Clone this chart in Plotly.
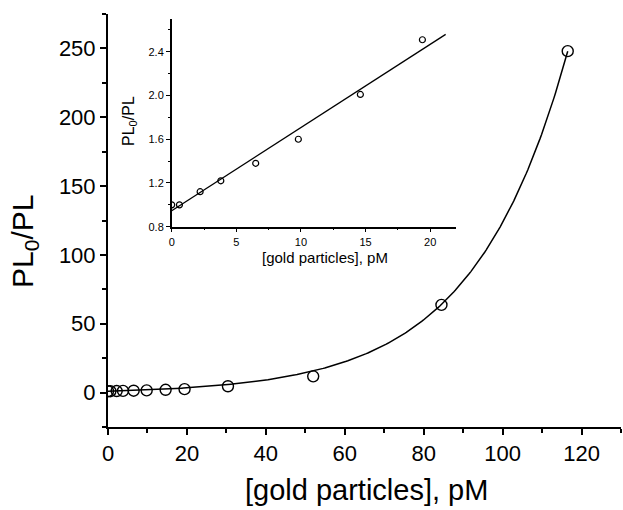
import numpy as np
import plotly.graph_objects as go

# data
conc_pM = [0, 0.6, 2.2, 3.8, 6.5, 9.8, 14.6, 19.4, 30.4, 52.0, 84.5, 116.5]
pl_ratio = [1.0, 1.0, 1.12, 1.22, 1.38, 1.60, 2.01, 2.51, 4.6, 11.8, 63.7, 248.0]
inset_conc = conc_pM[:8]
inset_ratio = pl_ratio[:8]

# fitted curves (parameters)
exp_y0, exp_A, exp_k = -0.866, 1.866, 0.042
lin_b, lin_m, lin_xmax = 0.946, 0.0761, 21.2

main_xticks = [0, 20, 40, 60, 80, 100, 120]
main_yticks = [0, 50, 100, 150, 200, 250]
inset_xticks = [0, 5, 10, 15, 20]
inset_yticks = [0.8, 1.2, 1.6, 2.0, 2.4]

FONT = "Liberation Sans, Arial, sans-serif"

xf = np.linspace(0, conc_pM[-1], 300)
yf = exp_y0 + exp_A * np.exp(exp_k * xf)
xl = np.array([0, lin_xmax])
yl = lin_b + lin_m * xl

fig = go.Figure()
fig.add_trace(go.Scatter(x=xf, y=yf, mode="lines", line=dict(color="black", width=1.5),
                         xaxis="x", yaxis="y", hoverinfo="skip"))
fig.add_trace(go.Scatter(x=conc_pM, y=pl_ratio, mode="markers",
                         marker=dict(symbol="circle-open", size=11, color="black", line=dict(width=1.4)),
                         xaxis="x", yaxis="y"))
fig.add_trace(go.Scatter(x=xl, y=yl, mode="lines", line=dict(color="black", width=1.3),
                         xaxis="x2", yaxis="y2", hoverinfo="skip"))
fig.add_trace(go.Scatter(x=inset_conc, y=inset_ratio, mode="markers",
                         marker=dict(symbol="circle-open", size=6, color="black", line=dict(width=1.2)),
                         xaxis="x2", yaxis="y2"))

L, R, T, B = 108, 2, 14, 83
W, H = 623, 510
PW, PH = W - L - R, H - T - B

def px(x):
    return (x - L) / PW

def py(y):
    return (H - B - y) / PH

axis_common = dict(showgrid=False, zeroline=False, showline=True, linecolor="black",
                   ticks="outside", tickcolor="black", mirror=False, automargin=False)

fig.update_layout(
    width=W, height=H,
    margin=dict(l=L, r=R, t=T, b=B),
    paper_bgcolor="white", plot_bgcolor="white",
    showlegend=False,
    font=dict(family=FONT, color="black"),
    xaxis=dict(range=[0, 130], tickvals=main_xticks, linewidth=2, tickwidth=2, ticklen=6,
               tickfont=dict(size=22, family=FONT),
               minor=dict(dtick=10, ticklen=4, tickwidth=1.5, ticks="outside", tickcolor="black"),
               domain=[0, 1], anchor="y", **axis_common),
    yaxis=dict(range=[-25, 275], tickvals=main_yticks, linewidth=2, tickwidth=2, ticklen=6,
               tickfont=dict(size=22, family=FONT),
               minor=dict(dtick=25, tick0=0, ticklen=4, tickwidth=1.5, ticks="outside", tickcolor="black"),
               domain=[0, 1], anchor="x", **axis_common),
    xaxis2=dict(range=[0, 22], tickvals=inset_xticks, linewidth=1.5, tickwidth=1.3, ticklen=4,
                tickfont=dict(size=11, family=FONT),
                minor=dict(dtick=2.5, ticklen=2, tickwidth=1, ticks="outside", tickcolor="black"),
                domain=[px(171.7), px(456)], anchor="y2", **axis_common),
    yaxis2=dict(range=[0.8, 2.7], tickvals=inset_yticks, ticktext=["0.8", "1.2", "1.6", "2.0", "2.4"],
                linewidth=1.5, tickwidth=1.3, ticklen=4,
                tickfont=dict(size=11, family=FONT),
                minor=dict(dtick=0.2, tick0=0.8, ticklen=2, tickwidth=1, ticks="outside", tickcolor="black"),
                domain=[py(226.7), py(19)], anchor="x2", **axis_common),
    annotations=[
        dict(text="[gold particles], pM", x=px(366), y=py(490), xref="paper", yref="paper",
             showarrow=False, font=dict(size=29, family=FONT), xanchor="center", yanchor="middle"),
        dict(text="PL<sub>0</sub>/PL", x=px(24), y=py(242), xref="paper", yref="paper",
             showarrow=False, textangle=-90, font=dict(size=30, family=FONT),
             xanchor="center", yanchor="middle"),
        dict(text="[gold particles], pM", x=px(325), y=py(257), xref="paper", yref="paper",
             showarrow=False, font=dict(size=15, family=FONT), xanchor="center", yanchor="middle"),
        dict(text="PL<sub>0</sub>/PL", x=px(129), y=py(121), xref="paper", yref="paper",
             showarrow=False, textangle=-90, font=dict(size=16, family=FONT),
             xanchor="center", yanchor="middle"),
    ],
)

fig.write_html("out.html", config={"displayModeBar": False},
               post_script="document.body.style.margin='0';document.body.style.overflow='hidden';")
